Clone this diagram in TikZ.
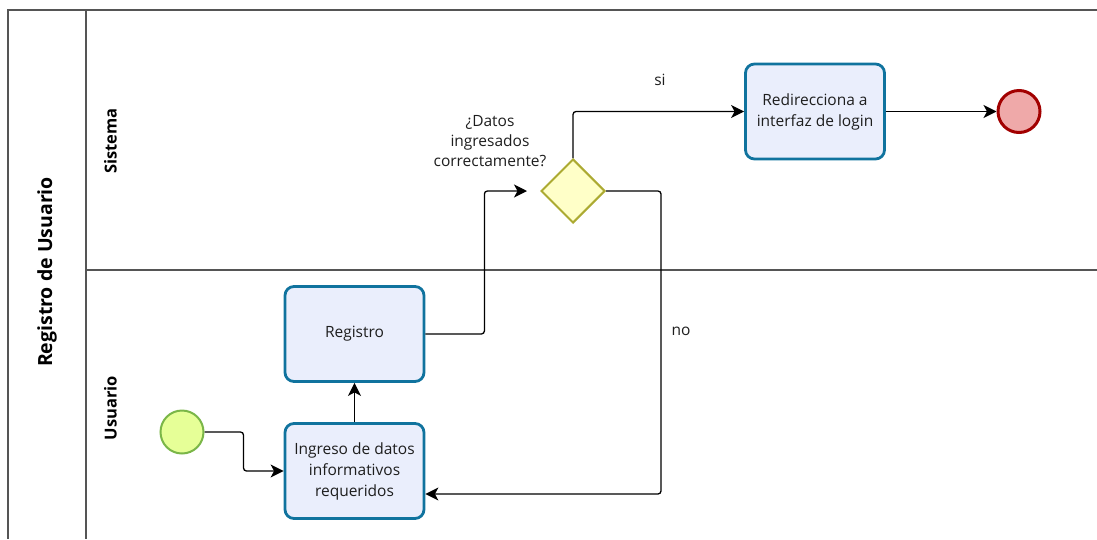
\documentclass[tikz,border=0pt]{standalone}
\usepackage{fontspec}
\setmainfont{Open Sans}
\usetikzlibrary{shapes.geometric,arrows.meta,calc}

\definecolor{taskfill}{RGB}{234,238,252}
\definecolor{taskline}{RGB}{16,115,158}
\definecolor{gwfill}{RGB}{255,255,200}
\definecolor{gwline}{RGB}{172,170,50}
\definecolor{startfill}{RGB}{230,255,151}
\definecolor{startline}{RGB}{122,182,72}
\definecolor{endfill}{RGB}{239,169,169}
\definecolor{endline}{RGB}{162,0,0}
\definecolor{poolline}{RGB}{85,85,85}
\definecolor{txt}{RGB}{30,30,30}

\tikzset{
  pool/.style={draw=poolline, line width=1.5pt},
  task/.style={rectangle, rounded corners=9pt, draw=taskline, fill=taskfill,
    line width=2.8pt, minimum width=139pt, minimum height=95pt,
    align=center, text=txt, font=\fontsize{15.5}{21}\selectfont, inner sep=2pt},
  gateway/.style={diamond, draw=gwline, fill=gwfill, line width=2pt,
    minimum width=64pt, minimum height=64pt, inner sep=0pt},
  startev/.style={circle, draw=startline, fill=startfill, line width=2pt,
    minimum size=43pt, inner sep=0pt},
  endev/.style={circle, draw=endline, fill=endfill, line width=3pt,
    minimum size=42pt, inner sep=0pt},
  flow/.style={draw=black, line width=1.3pt, rounded corners=3pt,
    -{Stealth[length=13pt, width=13pt, inset=3.5pt]}},
  lbl/.style={text=txt, font=\fontsize{15.5}{20}\selectfont, align=center, inner sep=0pt},
  lanelbl/.style={rotate=90, font=\bfseries\fontsize{16.5}{18}\selectfont, text=black, inner sep=0pt},
}

\begin{document}
\begin{tikzpicture}[x=1pt, y=-1pt]
\useasboundingbox (0,0) rectangle (1097,539);

% pool frame and lanes
\draw[pool] (1097,10) -- (8,10) -- (8,539);
\draw[pool] (86,10) -- (86,539);
\draw[pool] (86,270) -- (1097,270);

\node[rotate=90, font=\bfseries\fontsize{19.5}{22}\selectfont, inner sep=0pt] (pooltitle) at (47,272) {Registro de Usuario};
\node[lanelbl] (lanesis) at (110.5,141) {Sistema};
\node[lanelbl] (laneusu) at (110.5,408) {Usuario};

% flow elements
\node[startev] (start) at (182,432) {};
\node[task] (ingreso) at (354.5,471) {Ingreso de datos\\informativos\\requeridos};
\node[task] (registro) at (354.5,334) {Registro};
\node[gateway] (gw) at (573,191) {};
\node[lbl] (gwlabel) at (490,141) {¿Datos\\ingresados\\correctamente?};
\node[task] (redir) at (815,111.5) {Redirecciona a\\interfaz de login};
\node[endev] (finish) at (1019,111.5) {};

\node[lbl] (lblsi) at (660,80) {si};
\node[lbl] (lblno) at (681,331) {no};

% sequence flows
\draw[flow] (start.east) -- ++(39,0) |- (ingreso.west);
\draw[flow] (ingreso.north) -- (registro.south);
\draw[flow, shorten >=13pt] (registro.east) -- ++(59,0) |- (gw.west);
\draw[flow] (gw.north) |- (redir.west);
\draw[flow] (gw.east) -- ++(55,0) |- ($(ingreso.east)+(0,23)$);
\draw[flow] (redir.east) -- (finish.west);
\end{tikzpicture}
\end{document}
